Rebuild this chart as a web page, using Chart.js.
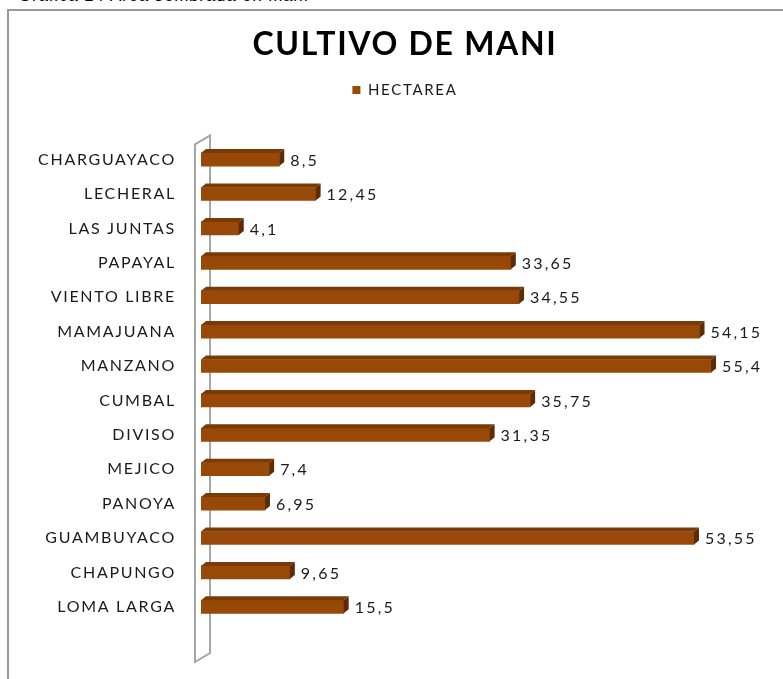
<!DOCTYPE html>
<html>
<head>
<meta charset="utf-8">
<script src="https://cdn.jsdelivr.net/npm/chart.js@4.4.0/dist/chart.umd.min.js"></script>
<style>
  html, body { margin: 0; padding: 0; background: #fff; overflow: hidden; }
  #wrap { position: relative; width: 783px; height: 679px; }
  #caption { position: absolute; left: 18px; top: -14px; font: 17px "Liberation Sans", Arial, sans-serif; letter-spacing: 0.8px; color: #000; white-space: nowrap; }
  #frame { position: absolute; left: 7px; top: 9px; width: 820px; height: 700px; border-left: 2px solid #999; border-top: 2px solid #999; }
  canvas { position: absolute; left: 0; top: 0; }
</style>
</head>
<body>
<div id="wrap">
  <div id="caption">Gráfica 14  Área sembrada en maní</div>
  <div id="frame"></div>
  <canvas id="chart" width="783" height="679"></canvas>
</div>
<script>
// Datos: hectáreas sembradas de maní por vereda
const categories = ['CHARGUAYACO', 'LECHERAL', 'LAS JUNTAS', 'PAPAYAL', 'VIENTO LIBRE', 'MAMAJUANA', 'MANZANO',
  'CUMBAL', 'DIVISO', 'MEJICO', 'PANOYA', 'GUAMBUYACO', 'CHAPUNGO', 'LOMA LARGA'];
const hectareas = [8.5, 12.45, 4.1, 33.65, 34.55, 54.15, 55.4, 35.75, 31.35, 7.4, 6.95, 53.55, 9.65, 15.5];
const seriesLabel = 'HECTAREA';

const FRONT = '#984807';
const TOP = '#7a3a06';
const SIDE = '#5e2c04';
const DX = 5, DY = 4;
const FONT = 'Lato';
const SPACING = '1.7px';

// spacing de letras estilo GDI (tambien al medir)
const spacing = {
  id: 'spacing',
  beforeUpdate(chart) { chart.ctx.letterSpacing = SPACING; },
  beforeDraw(chart) { chart.ctx.letterSpacing = SPACING; },
};

// pared 3D a la izquierda
const wall = {
  id: 'wall',
  beforeDatasetsDraw(chart) {
    const { ctx, chartArea: a } = chart;
    const x0 = a.left - 6, x1 = a.left + 9;
    const t0 = a.top + 2, t1 = a.top - 7;
    const b0 = a.bottom + 38, b1 = a.bottom + 29;
    ctx.save();
    ctx.beginPath();
    ctx.moveTo(x0, b0);
    ctx.lineTo(x0, t0);
    ctx.lineTo(x1, t1);
    ctx.lineTo(x1, b1);
    ctx.closePath();
    ctx.fillStyle = '#fff';
    ctx.fill();
    ctx.strokeStyle = '#a6a6a6';
    ctx.lineWidth = 2;
    ctx.stroke();
    ctx.restore();
  }
};

// caras superior y lateral + etiquetas de valor
const bars3d = {
  id: 'bars3d',
  afterDatasetsDraw(chart) {
    const { ctx } = chart;
    const meta = chart.getDatasetMeta(0);
    ctx.save();
    meta.data.forEach((bar, i) => {
      const p = bar.getProps(['x', 'y', 'base', 'height'], true);
      const top = p.y - p.height / 2, bottom = p.y + p.height / 2;
      ctx.beginPath();
      ctx.moveTo(p.base, top);
      ctx.lineTo(p.x, top);
      ctx.lineTo(p.x + DX, top - DY);
      ctx.lineTo(p.base + DX, top - DY);
      ctx.closePath();
      ctx.fillStyle = TOP;
      ctx.fill();
      ctx.beginPath();
      ctx.moveTo(p.x, top);
      ctx.lineTo(p.x + DX, top - DY);
      ctx.lineTo(p.x + DX, bottom - DY);
      ctx.lineTo(p.x, bottom);
      ctx.closePath();
      ctx.fillStyle = SIDE;
      ctx.fill();
      ctx.fillStyle = '#1a1a1a';
      ctx.font = '16px ' + FONT;
      ctx.letterSpacing = '2.2px';
      ctx.textAlign = 'left';
      ctx.textBaseline = 'middle';
      ctx.fillText(String(hectareas[i]).replace('.', ','), p.x + DX + 6, p.y + 1);
    });
    ctx.restore();
  }
};

new Chart(document.getElementById('chart'), {
  type: 'bar',
  data: {
    labels: categories,
    datasets: [{
      label: seriesLabel,
      data: hectareas,
      backgroundColor: FRONT,
      borderWidth: 0,
      barThickness: 13,
    }],
  },
  options: {
    indexAxis: 'y',
    responsive: false,
    animation: false,
    devicePixelRatio: 1,
    layout: { padding: { left: 29, right: 2, top: 0, bottom: 55 } },
    plugins: {
      title: {
        display: true,
        text: 'CULTIVO DE MANI',
        color: '#000',
        font: { family: FONT, size: 32, weight: 'bold' },
        padding: { top: 25, bottom: 9 },
      },
      legend: {
        display: true,
        labels: {
          color: '#1a1a1a',
          font: { family: FONT, size: 15 },
          boxWidth: 8,
          boxHeight: 8,
          padding: 10,
        },
      },
      tooltip: { enabled: false },
    },
    scales: {
      x: {
        position: 'top',
        min: 0,
        max: 63,
        ticks: { display: false },
        grid: { display: false },
        border: { display: false },
        afterFit: (s) => { s.height = 35; },
      },
      y: {
        grid: { display: false, drawTicks: false },
        border: { display: false },
        ticks: { color: '#1a1a1a', font: { family: FONT, size: 16 }, padding: 25 },
        afterFit: (s) => { s.width = 172; },
      },
    },
  },
  plugins: [spacing, wall, bars3d],
});
</script>
</body>
</html>
